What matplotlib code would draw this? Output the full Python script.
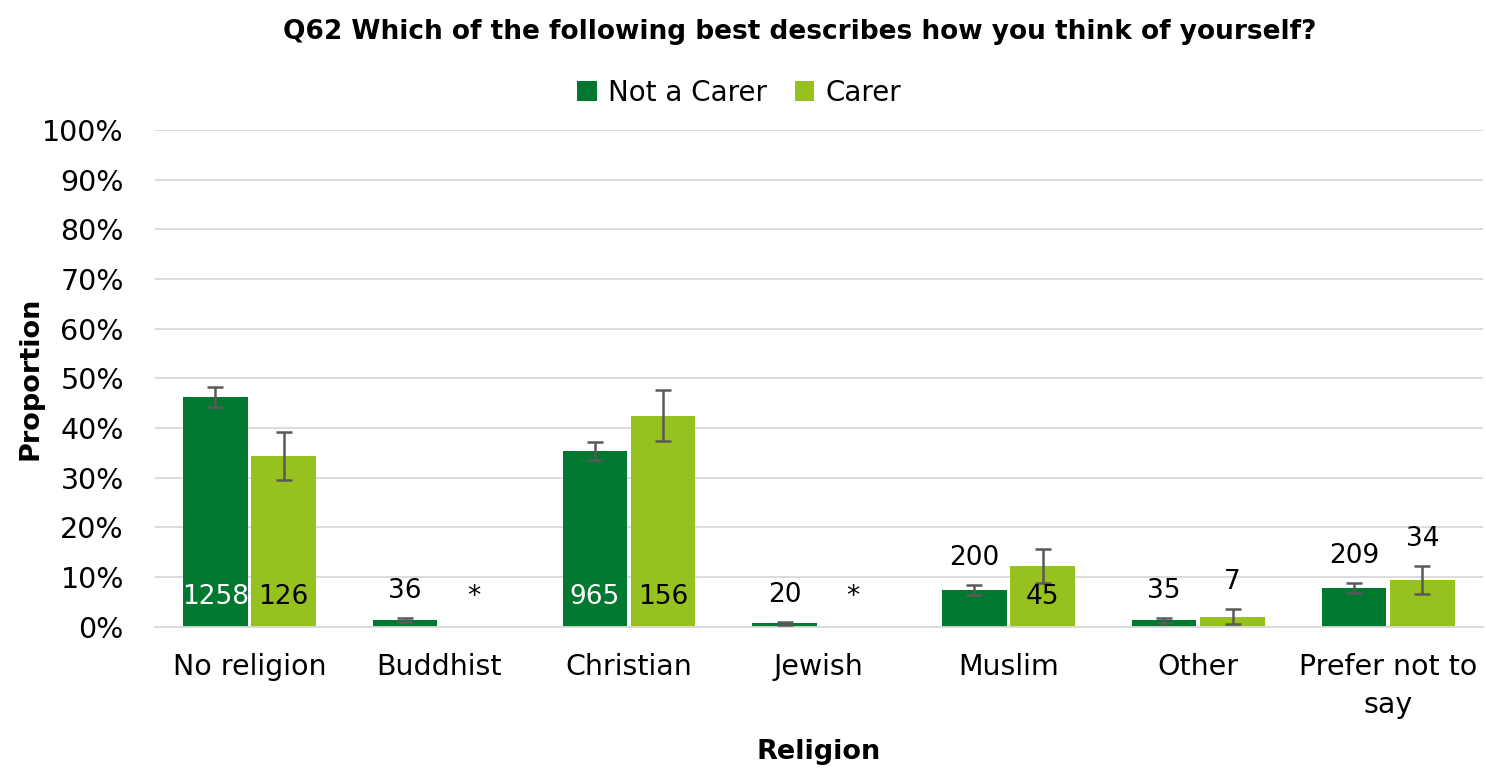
import numpy as np
import matplotlib
matplotlib.use("Agg")
import matplotlib.pyplot as plt
from matplotlib.ticker import PercentFormatter

categories = ["No religion", "Buddhist", "Christian", "Jewish", "Muslim", "Other", "Prefer not to\nsay"]

not_carer = [46.3, 1.3, 35.4, 0.7, 7.4, 1.3, 7.8]
not_carer_err = [2.0, 0.4, 1.9, 0.3, 1.1, 0.5, 1.0]
not_carer_n = ["1258", "36", "965", "20", "200", "35", "209"]

carer = [34.4, np.nan, 42.5, np.nan, 12.3, 2.0, 9.4]
carer_err = [4.8, np.nan, 5.1, np.nan, 3.4, 1.5, 2.9]
carer_n = ["126", "*", "156", "*", "45", "7", "34"]

DARK = "#00782F"
LIGHT = "#97C11F"
ERR = "#595959"

plt.rcParams["font.family"] = ["DejaVu Sans"]

fig = plt.figure(figsize=(14.86, 7.7), dpi=100)
ax = fig.add_axes([0.104, 0.186, 0.894, 0.645])

x = np.arange(len(categories))
w = 0.34
off = 0.18

ax.bar(x - off, not_carer, w, color=DARK, label="Not a Carer", zorder=2)
ax.bar(x + off, np.nan_to_num(carer), w, color=LIGHT, label="Carer", zorder=2)
ax.errorbar(x - off, not_carer, yerr=not_carer_err, fmt="none", ecolor=ERR,
            elinewidth=1.8, capsize=6, capthick=1.8, zorder=3)
ax.errorbar(x + off, carer, yerr=carer_err, fmt="none", ecolor=ERR,
            elinewidth=1.8, capsize=6, capthick=1.8, zorder=3)

# count labels: inside the base for tall bars, above the error bar otherwise
def put_labels(xs, vals, errs, labels, inside_color):
    for xi, v, e, lab in zip(xs, vals, errs, labels):
        if np.isnan(v):
            ax.text(xi, 6.0, lab, ha="center", va="center", fontsize=19, color="black")
        elif v >= 10:
            ax.text(xi, 6.0, lab, ha="center", va="center", fontsize=19, color=inside_color)
        else:
            ax.text(xi, v + e + 2.8, lab, ha="center", va="bottom", fontsize=19, color="black")

put_labels(x - off, not_carer, not_carer_err, not_carer_n, "white")
put_labels(x + off, carer, carer_err, carer_n, "black")

ax.set_xlim(-0.5, len(categories) - 0.5)
ax.set_ylim(0, 100)
ax.set_yticks(np.arange(0, 101, 10))
ax.yaxis.set_major_formatter(PercentFormatter(decimals=0))
ax.set_xticks(x)
ax.set_xticklabels(categories, fontsize=20.5, linespacing=1.45)
ax.tick_params(axis="y", labelsize=20.5, length=0, pad=22)
ax.tick_params(axis="x", length=0, pad=19)
ax.grid(axis="y", color="#D9D9D9", linewidth=1.3, zorder=0)
ax.set_axisbelow(True)
for s in ["top", "right", "left"]:
    ax.spines[s].set_visible(False)
ax.spines["bottom"].set_color("#D9D9D9")
ax.spines["bottom"].set_linewidth(1.3)

ax.set_ylabel("Proportion", fontsize=19.5, fontweight="bold", labelpad=-1)
ax.set_xlabel("Religion", fontsize=19.5, fontweight="bold", labelpad=14)

fig.suptitle("Q62 Which of the following best describes how you think of yourself?",
             x=0.538, y=0.975, fontsize=19, fontweight="bold")
ax.legend(loc="lower center", bbox_to_anchor=(0.44, 1.0), ncol=2, frameon=False,
          fontsize=20, handlelength=0.7, handleheight=0.7, handletextpad=0.4,
          columnspacing=1.0, borderaxespad=0.45)

fig.savefig("out.png", dpi=100)
